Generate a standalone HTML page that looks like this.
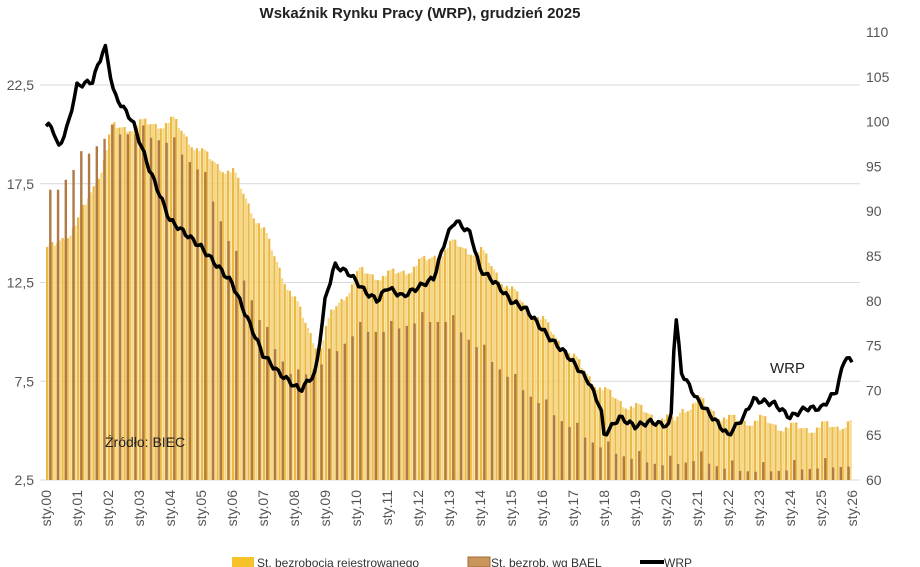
<!DOCTYPE html>
<html><head><meta charset="utf-8"><style>
body{margin:0;background:#fff;}
svg{display:block;font-family:"Liberation Sans",sans-serif;}
</style></head><body>
<svg id="s" width="920" height="567" xmlns="http://www.w3.org/2000/svg">
<text x="420" y="18" text-anchor="middle" font-size="15" font-weight="bold" fill="#222">Wskaźnik Rynku Pracy (WRP), grudzień 2025</text>
<g id="grid"></g><g id="bars"></g><g id="line"></g><g id="lab"></g>
<text x="105" y="447" font-size="14" fill="#222">Źródło: BIEC</text>
<text x="770" y="373" font-size="15" fill="#222">WRP</text>
<rect x="232" y="557" width="22" height="10" fill="#f5c22a"/>
<text x="257" y="567" font-size="12" fill="#333">St. bezrobocia rejestrowanego</text>
<rect x="468" y="557" width="22" height="10" fill="#c9955a" stroke="#a06a3a"/>
<text x="491" y="567" font-size="12" fill="#333">St. bezrob. wg BAEL</text>
<rect x="640" y="560" width="24" height="4" fill="#000"/>
<text x="664" y="567" font-size="12" fill="#333">WRP</text>
</svg>
<script>
const NS="http://www.w3.org/2000/svg";
function el(p,t,a,txt){const e=document.createElementNS(NS,t);for(const k in a)e.setAttribute(k,a[k]);if(txt!==undefined)e.textContent=txt;document.getElementById(p).appendChild(e);return e;}
const X0=46,X1=852,px=(X1-X0)/26;
const xf=t=>X0+(t-2000)*px;
const yl=v=>480-(v-2.5)*19.75;
const yr=v=>480-(v-60)*8.96;
function interp(pts,t){for(let i=0;i<pts.length-1;i++){if(t>=pts[i][0]&&t<=pts[i+1][0]){const f=(t-pts[i][0])/(pts[i+1][0]-pts[i][0]);return pts[i][1]+f*(pts[i+1][1]-pts[i][1]);}}return t<pts[0][0]?pts[0][1]:pts[pts.length-1][1];}
[2.5,7.5,12.5,17.5,22.5].forEach((v,i)=>{el('grid','line',{x1:40,x2:860,y1:yl(v),y2:yl(v),stroke:'#d9d9d9','stroke-width':1});el('lab','text',{x:34,y:yl(v)+5,'text-anchor':'end','font-size':14,fill:'#555'},v.toFixed(1).replace('.',','));});
for(let v=60;v<=110;v+=5)el('lab','text',{x:866,y:yr(v)+5,'font-size':14,fill:'#555'},v);
for(let y=0;y<=26;y++){const x=xf(2000+y);el('lab','text',{transform:`translate(${x+5},490) rotate(-90)`,'text-anchor':'end','font-size':14,fill:'#555'},'sty.'+String(y).padStart(2,'0'));}
const reg=[[2000,14],[2001,15.5],[2001.8,18.5],[2002.1,20.3],[2003.2,20.5],[2004.1,20.6],[2005,19],[2006,18],[2007,15],[2008,11.5],[2008.8,9],[2009.2,11],[2010.1,13],[2011,12.8],[2012,13.4],[2013.1,14.4],[2014,14],[2015,12],[2016,10.5],[2017,8.6],[2018,6.9],[2019,6.1],[2020.2,5.4],[2020.5,6.1],[2021,6.5],[2022,5.5],[2023,5.5],[2024,5.1],[2025.5,5.2],[2026,5.6]];
const bael=[[2000,16.5],[2001,18.5],[2002,20],[2003,20],[2004,19.5],[2005,18],[2006,14],[2007,10],[2008,7.5],[2009,8.5],[2010,10],[2011,10],[2012,10.5],[2013,10.5],[2014,9],[2015,7.5],[2016,6.2],[2017,5],[2018,4],[2019,3.5],[2020,3.2],[2021,3.5],[2022,3],[2023,2.9],[2024,3],[2026,3.2]];
for(let m=0;m<312;m++){const t=2000+m/12;const s=(m%12<3)?0.3:((m%12>6&&m%12<10)?-0.25:0);const v=interp(reg,t)+s;const x=xf(t);
el('bars','rect',{x:x,y:yl(v),width:2.2,height:480-yl(v),fill:(m%2?'#f6d986':'#ecb945')});}
for(let q=0;q<104;q++){const t=2000+q/4+0.1;const v=interp(bael,t)+(q%4==0?0.5:0);const x=xf(t);
el('bars','rect',{x:x,y:yl(v),width:2.4,height:480-yl(v),fill:'#b07a45'});}
const wrp=[[2000,99.5],[2000.2,99.5],[2000.4,97],[2000.7,99.5],[2001,104],[2001.5,104.5],[2001.9,108.5],[2002.2,103],[2002.8,100],[2003.3,95],[2004,89],[2005,86],[2006,82],[2007,74],[2007.5,72],[2008.2,70],[2008.7,72],[2009,80],[2009.3,84],[2009.8,83],[2010.3,81],[2010.7,80],[2011,81.5],[2011.5,80.5],[2012,81.5],[2012.5,82.5],[2012.9,87],[2013.2,89],[2013.7,87.5],[2014,83.5],[2014.5,82],[2015,80],[2015.5,79],[2016.2,76],[2016.8,74],[2017.5,71],[2017.9,68],[2018,65],[2018.5,67],[2019,66],[2019.5,66.5],[2020.15,66],[2020.3,79],[2020.5,72],[2021,69],[2021.5,67],[2022,65],[2022.5,67],[2022.8,69],[2023.5,68.5],[2024,67],[2024.5,68],[2025,68],[2025.5,70],[2025.8,74],[2026,73]];
let d='';for(let m=0;m<=312;m++){const t=2000+m/12;const v=interp(wrp,t)+Math.sin(m*1.7)*0.3;d+=(m?'L':'M')+xf(t).toFixed(1)+','+yr(v).toFixed(1);}
el('line','path',{d:d,fill:'none',stroke:'#000','stroke-width':3.5,'stroke-linejoin':'round'});
</script>
</body></html>
